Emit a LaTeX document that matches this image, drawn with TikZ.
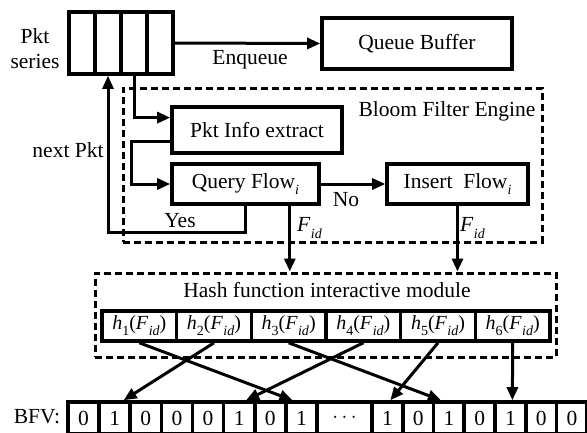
\documentclass[tikz,border=0pt]{standalone}
\usepackage{fontspec}
\setmainfont{Liberation Serif}
\usetikzlibrary{arrows.meta,calc}
\newcommand\subtxt[1]{\raisebox{-0.3em}{\fontsize{14}{14}\selectfont #1}}
\newcommand\Fid{\textit{F}\kern0.02em\subtxt{\textit{id}}}
\begin{document}
\begin{tikzpicture}[x=1pt,y=-1pt,
  font=\fontsize{21.5}{25}\selectfont,
  blk/.style={draw,line width=3.6pt,inner sep=0pt},
  dbox/.style={draw,dash pattern=on 7pt off 4pt,line width=3pt,inner sep=0pt},
  arr/.style={line width=3pt,-{Triangle[length=13pt,width=11pt]}},
  lbl/.style={inner sep=0pt}]
\useasboundingbox (0,0) rectangle (587,432);
% packet series
\foreach \i/\x in {1/82,2/108,3/134,4/160}
  \node[blk,minimum width=26pt,minimum height=62pt] (p\i) at (\x,43) {};
\node[lbl,align=center] (ps) at (35,49) {Pkt\\series};
\node[blk,minimum width=190pt,minimum height=51pt] (qb) at (417,43.5) {Queue Buffer};
\node[lbl] (enq) at (250,60) {Enqueue};
% Bloom filter engine
\node[dbox,minimum width=419pt,minimum height=154pt] (bfe) at (332.5,165) {};
\node[lbl] (bfel) at (447,111) {Bloom Filter Engine};
\node[blk,minimum width=170pt,minimum height=46pt] (info) at (257,130) {Pkt Info extract};
\node[blk,minimum width=147pt,minimum height=40pt] (query) at (245.5,184) {Query Flow\subtxt{\textit{i}}};
\node[blk,minimum width=141pt,minimum height=40pt] (ins) at (457.5,184) {Insert\ \ Flow\subtxt{\textit{i}}};
\node[lbl] (nextl) at (68,150) {next Pkt};
\node[lbl] (yes) at (180,221) {Yes};
\node[lbl] (no) at (346,200) {No};
% hash module
\node[dbox,minimum width=461pt,minimum height=84pt] (hash) at (325.5,315) {};
\node[lbl] (hashl) at (327,290) {Hash function interactive module};
\foreach \i in {1,...,6}
  \node[blk,minimum width=74.67pt,minimum height=30pt,font=\fontsize{20}{24}\selectfont] (h\i) at ({102+74.67*(\i-0.5)},326) {\textit{h}\subtxt{\i}(\Fid)};
% BFV
\node[lbl] (bfvl) at (37,417) {BFV:};
\foreach \v [count=\i] in {0,1,0,0,0,1,0,1}
  \node[blk,minimum width=31.125pt,minimum height=32pt] (b\i) at ({68+31.125*(\i-0.5)},418) {\v};
\node[blk,minimum width=55pt,minimum height=32pt] (b9) at (344.5,418) {$\cdots$};
\foreach \v [count=\i from 10] in {1,0,1,0,1,0,0}
  \node[blk,minimum width=30.75pt,minimum height=32pt] (b\i) at ({372+30.75*(\i-9.5)},418) {\v};
% connectors
\draw[arr] (p4.east) -- (qb.west);
\draw[arr] (p3.south) |- ($(info.north west)!0.25!(info.south west)$);
\draw[arr] ($(info.north west)!0.74!(info.south west)$) -- ++(-39,0) |- (query.west);
\draw[arr] (query.east) -- (ins.west);
\draw[arr] ($(query.south west)+(75,0)$) -- ++(0,27) -| (p2.south);
\coordinate (fq) at ($(query.south east)+(-31,0)$);
\draw[arr] (fq) -- (fq |- hash.north);
\draw[arr] (ins.south) -- (ins.south |- hash.north);
\node[lbl,anchor=west] (fql) at (297,228) {\Fid};
\node[lbl,anchor=west] (fil) at (460,228) {\Fid};
\draw[arr] (h1.south) -- ($(b8.north)+(-9,0)$);
\draw[arr] (h2.south) -- ($(b2.north)+(9,0)$);
\draw[arr] (h3.south) -- ($(b12.north)+(-8,0)$);
\draw[arr] (h4.south) -- ($(b6.north)+(7,0)$);
\draw[arr] (h5.south) -- ($(b10.north)+(3,0)$);
\draw[arr] (h6.south) -- ($(b14.north)+(2,0)$);
\end{tikzpicture}
\end{document}
